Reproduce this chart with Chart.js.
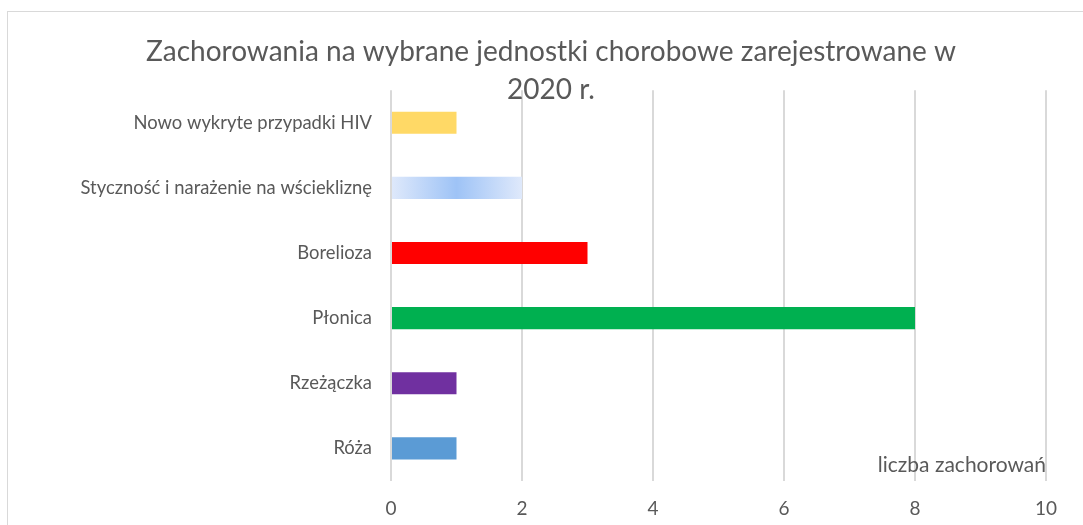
<!DOCTYPE html>
<html lang="pl">
<head>
<meta charset="utf-8">
<title>Zachorowania 2020</title>
<script src="https://cdn.jsdelivr.net/npm/chart.js@4"></script>
<style>
  html, body { margin: 0; padding: 0; background: #fff; overflow: hidden; }
  #wrap { position: relative; width: 1083px; height: 525px; }
  #frame { position: absolute; left: 7px; top: 11px; width: 1100px; height: 540px;
           border: 1.5px solid #d9d9d9; box-sizing: border-box; }
  #chart { position: absolute; left: 0; top: 0; }
</style>
</head>
<body>
<div id="wrap">
  <div id="frame"></div>
  <canvas id="chart" width="1083" height="525"></canvas>
</div>
<script>
// dane z wykresu (od góry do dołu)
const categories = [
  "Nowo wykryte przypadki HIV",
  "Styczność i narażenie na wściekliznę",
  "Borelioza",
  "Płonica",
  "Rzeżączka",
  "Róża"
];
const cases = [1, 2, 3, 8, 1, 1];
const barColors = ["#FFD966", "gradient", "#FF0000", "#00B050", "#7030A0", "#5B9BD5"];
const titleLines = ["Zachorowania na wybrane jednostki chorobowe zarejestrowane w", "2020 r."];
const axisTitle = "liczba zachorowań";

const fontFamily = "Lato, 'Open Sans', sans-serif";
const textColor = "#595959";
const padLeft = 56;

// gradient dla słupka "Styczność..."
function barColor(c) {
  const col = barColors[c.dataIndex];
  if (col !== "gradient") return col;
  const chart = c.chart;
  const xs = chart.scales.x;
  if (!xs) return "#a9c8f5";
  const x0 = xs.getPixelForValue(0);
  const x1 = xs.getPixelForValue(cases[c.dataIndex]);
  const g = chart.ctx.createLinearGradient(x0, 0, x1, 0);
  g.addColorStop(0, "#dfe9fb");
  g.addColorStop(0.5, "#9ec3f6");
  g.addColorStop(1, "#dfe9fb");
  return g;
}

// podpis osi wewnątrz obszaru wykresu
const axisLabelPlugin = {
  id: "axisLabel",
  afterDraw(chart) {
    const { ctx, chartArea } = chart;
    ctx.save();
    ctx.font = "21px " + fontFamily;
    ctx.fillStyle = textColor;
    ctx.textAlign = "right";
    ctx.textBaseline = "middle";
    ctx.fillText(axisTitle, chartArea.right, chartArea.bottom - 16);
    ctx.restore();
  }
};

const ctx = document.getElementById("chart").getContext("2d");

new Chart(ctx, {
  type: "bar",
  data: {
    labels: categories,
    datasets: [{
      data: cases,
      backgroundColor: barColor,
      borderWidth: 0,
      barPercentage: 1,
      categoryPercentage: 0.34
    }]
  },
  options: {
    indexAxis: "y",
    responsive: false,
    animation: false,
    layout: { padding: { left: padLeft, right: 37, top: 0, bottom: 0 } },
    plugins: {
      legend: { display: false },
      tooltip: { enabled: false },
      title: {
        display: true,
        text: titleLines,
        color: textColor,
        font: { family: fontFamily, size: 28, weight: "normal", lineHeight: 1.36 },
        padding: { top: 33, bottom: -19 }
      }
    },
    scales: {
      x: {
        min: 0,
        max: 10,
        ticks: {
          stepSize: 2,
          color: textColor,
          font: { family: fontFamily, size: 19 },
          padding: 16
        },
        grid: { color: "#d9d9d9", lineWidth: 2, drawTicks: false },
        border: { display: false },
        afterFit(scale) { scale.height = 44; }
      },
      y: {
        ticks: {
          color: textColor,
          font: { family: fontFamily, size: 18.4 },
          padding: 19
        },
        grid: { display: false, drawTicks: false },
        border: { display: false },
        afterFit(scale) { scale.width = 391 - padLeft; }
      }
    }
  },
  plugins: [axisLabelPlugin]
});
</script>
</body>
</html>
